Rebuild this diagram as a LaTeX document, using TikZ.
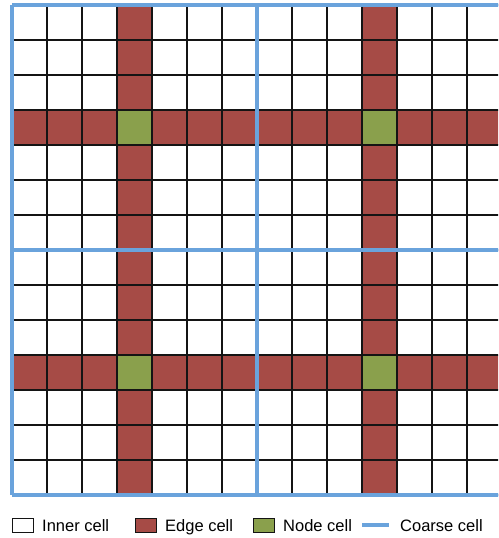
\documentclass[tikz,border=0pt]{standalone}
\usepackage{fontspec}
\setmainfont{Liberation Sans}
\definecolor{edgered}{RGB}{166,75,70}
\definecolor{nodegreen}{RGB}{138,160,76}
\definecolor{coarseblue}{RGB}{106,163,220}
\definecolor{gridline}{RGB}{20,20,20}
\tikzset{
  edgefill/.style={fill=edgered},
  nodefill/.style={fill=nodegreen},
  gridstroke/.style={draw=gridline, line width=1.1pt},
  coarse/.style={draw=coarseblue, line width=4pt},
  legbox/.style={draw=gridline, line width=1pt, minimum width=21pt, minimum height=14pt, inner sep=0pt},
  legtext/.style={anchor=base west, inner sep=0pt, font=\fontsize{16.5pt}{18pt}\selectfont}
}
\begin{document}
\begin{tikzpicture}[x=1pt,y=-1pt]
\useasboundingbox (0,0) rectangle (498,538);
\begin{scope}
\clip (0,0) rectangle (498,500);
% edge cells (rows and columns 3 and 10)
\foreach \c in {3,10}{
  \fill[edgefill] ({12+35*\c},5) rectangle ({12+35*(\c+1)},495);
  \fill[edgefill] (12,{5+35*\c}) rectangle (502,{5+35*(\c+1)});
}
% node cells
\foreach \c in {3,10}{
  \foreach \r in {3,10}{
    \fill[nodefill] ({12+35*\c},{5+35*\r}) rectangle ({12+35*(\c+1)},{5+35*(\r+1)});
  }
}
% fine grid
\foreach \i in {0,...,14}{
  \draw[gridstroke] ({12+35*\i},5) -- ({12+35*\i},495);
  \draw[gridstroke] (12,{5+35*\i}) -- (502,{5+35*\i});
}
% coarse grid
\foreach \i in {0,7,14}{
  \draw[coarse] ({12+35*\i},5) -- ({12+35*\i},495);
  \draw[coarse] (12,{5+35*\i}) -- (502,{5+35*\i});
}
\end{scope}
% legend
\node[legbox, fill=white] (innerbox) at (22.5,525) {};
\node[legtext] (innertext) at (42,531) {Inner cell};
\node[legbox, fill=edgered] (edgebox) at (146,525) {};
\node[legtext] (edgetext) at (165,531) {Edge cell};
\node[legbox, fill=nodegreen] (nodebox) at (263.5,525) {};
\node[legtext] (nodetext) at (283,531) {Node cell};
\coordinate (coarseA) at (362,525);
\coordinate (coarseB) at (389,525);
\draw[coarse] (coarseA) -- (coarseB);
\node[legtext] (coarsetext) at (400,531) {Coarse cell};
\end{tikzpicture}
\end{document}
